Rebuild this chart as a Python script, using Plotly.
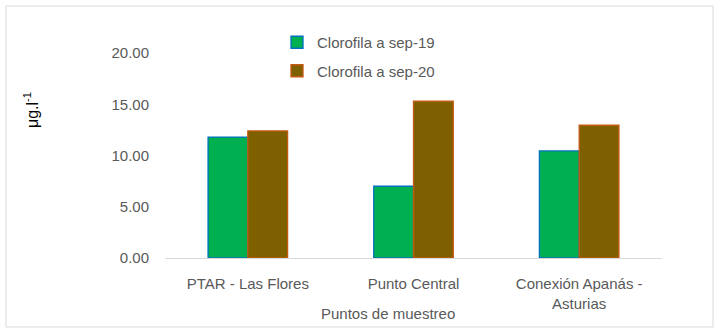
import plotly.graph_objects as go

categories = ["PTAR - Las Flores", "Punto Central", "Conexión Apanás -<br>Asturias"]
sep19 = [11.8, 7.0, 10.45]
sep20 = [12.4, 15.3, 12.95]
series_names = ["Clorofila a sep-19", "Clorofila a sep-20"]
y_ticks = [0, 5, 10, 15, 20]

FONT = "Liberation Sans, Arial, sans-serif"

fig = go.Figure()
fig.add_bar(x=categories, y=sep19, name=series_names[0], legendgroup="a",
            marker=dict(color="#00B050", line=dict(color="#0070C0", width=1.3)))
fig.add_bar(x=categories, y=sep20, name=series_names[1], legendgroup="b",
            marker=dict(color="#7F6000", line=dict(color="#C55A11", width=1.3)))

L, R, T, B = 165, 56, 53, 75
W, H = 718, 333
pw, ph = W - L - R, H - T - B

def px(x):
    return (x - L) / pw

def py(y):
    return (H - B - y) / ph

fig.update_layout(
    width=W, height=H,
    margin=dict(l=L, r=R, t=T, b=B),
    paper_bgcolor="white", plot_bgcolor="white",
    barmode="group", bargap=0.52, bargroupgap=0,
    font=dict(family=FONT, color="#595959", size=15),
    showlegend=True,
    legend=dict(x=px(277), y=py(26), xanchor="left", yanchor="top",
                tracegroupgap=6, font=dict(size=15, color="#595959"),
                bgcolor="rgba(0,0,0,0)"),
    xaxis=dict(showline=True, linecolor="#D9D9D9", linewidth=1.3,
               ticks="", ticklabelstandoff=12,
               tickfont=dict(size=15, color="#595959")),
    yaxis=dict(range=[0, 20], tickvals=y_ticks, tickformat=".2f",
               showgrid=False, zeroline=False, showline=False,
               ticks="outside", ticklen=12, tickcolor="white",
               tickfont=dict(size=15, color="#595959")),
    shapes=[dict(type="rect", xref="paper", yref="paper",
                 x0=px(6), x1=px(713), y0=py(327), y1=py(6),
                 line=dict(color="#D9D9D9", width=1), layer="below")],
    annotations=[
        dict(text="μg.l<sup>-1</sup>", xref="paper", yref="paper",
             x=px(31), y=py(110), xanchor="center", yanchor="middle",
             textangle=-90, showarrow=False,
             font=dict(size=16, color="black")),
        dict(text="Puntos de muestreo", xref="paper", yref="paper",
             x=px(388), y=py(313), xanchor="center", yanchor="middle",
             showarrow=False, font=dict(size=15, color="#595959")),
    ],
)

fig.write_html("out.html")
